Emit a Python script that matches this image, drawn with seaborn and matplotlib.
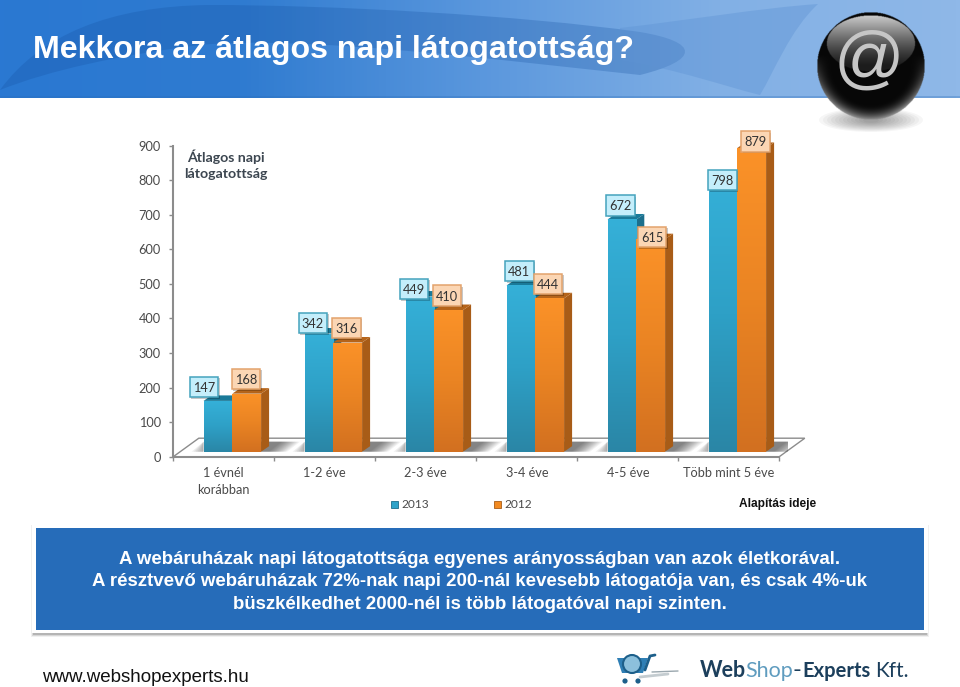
import numpy as np
import pandas as pd
import matplotlib
matplotlib.use('Agg')
import matplotlib.pyplot as plt
import seaborn as sns
from matplotlib.patches import Polygon, Rectangle, Circle, Ellipse, PathPatch
from matplotlib.path import Path
from matplotlib.colors import LinearSegmentedColormap

categories = ['1 évnél\nkorábban', '1-2 éve', '2-3 éve', '3-4 éve', '4-5 éve', 'Több mint 5 éve']
values_2013 = [147, 342, 449, 481, 672, 798]
values_2012 = [168, 316, 410, 444, 615, 879]
y_ticks = [0, 100, 200, 300, 400, 500, 600, 700, 800, 900]
series_names = ['2013', '2012']
panel_lines = ['A webáruházak napi látogatottsága egyenes arányosságban van azok életkorával.',
               'A résztvevő webáruházak 72%-nak napi 200-nál kevesebb látogatója van, és csak 4%-uk',
               'büszkélkedhet 2000-nél is több látogatóval napi szinten.']

W, H = 960, 687
sns.set_theme(style='white')
plt.rcParams['font.family'] = ['Lato', 'DejaVu Sans']
ARIAL = ['Liberation Sans', 'DejaVu Sans']
TEXT = '#4a4a4a'
AXIS = '#8c8c8c'

fig = plt.figure(figsize=(W / 100, H / 100), dpi=100, facecolor='white')


def add_axes_px(x0, y0, x1, y1, **kw):
    # pixel box, y measured from the top of the picture
    return fig.add_axes([x0 / W, 1 - y1 / H, (x1 - x0) / W, (y1 - y0) / H], **kw)


def curve(points):
    # smooth closed shape through cubic segments
    codes = [Path.MOVETO] + [Path.CURVE4] * (len(points) - 1)
    return Path(points, codes)


# page furniture in pixel coordinates
bg = fig.add_axes([0, 0, 1, 1], zorder=0)

header = LinearSegmentedColormap.from_list('h', ['#2a78d2', '#2f7bd0', '#5a97dd', '#82b0e5', '#8fb8e8'])
bg.imshow(np.linspace(0, 1, 256)[None, :], cmap=header, extent=(0, W, 98, 0), aspect='auto', zorder=1)
bg.add_patch(PathPatch(curve([(0, 90), (40, 35), (110, 6), (210, 5),
                              (330, 5), (520, 15), (640, 32),
                              (700, 42), (700, 60), (640, 75),
                              (500, 60), (300, 35), (200, 45),
                              (120, 55), (50, 70), (0, 90)]),
                       fc='#14509f', alpha=0.26, ec='none', zorder=2))
bg.add_patch(PathPatch(curve([(620, 28), (690, 20), (760, 8), (818, 4),
                              (790, 30), (775, 70), (760, 95),
                              (720, 85), (680, 70), (620, 60),
                              (620, 50), (620, 40), (620, 28)]),
                       fc='#5e93d4', alpha=0.4, ec='none', zorder=2))
bg.add_patch(Rectangle((0, 96), W, 2, fc='#2a6cb8', alpha=0.3, ec='none', zorder=2))
bg.text(33, 58, 'Mekkora az átlagos napi látogatottság?', color='white', fontsize=23.15, fontweight='bold',
        family=ARIAL, va='baseline', ha='left', zorder=5)

# sphere: radial shading from a grid, then highlight
gx, gy = np.meshgrid(np.linspace(-1, 1, 240), np.linspace(-1, 1, 240))
rr = np.hypot(gx, gy)
rim = np.clip((rr - 0.72) / 0.28, 0, 1) ** 2 * np.clip(gy + 0.2, 0, 1) * 0.55
glow_mask = ((gx / 0.82) ** 2 + ((gy + 0.42) / 0.52) ** 2) < 1
top_glow = np.where(glow_mask, np.clip(-gy, 0, 1) ** 1.3 * 0.75 + 0.08, 0)
grey = np.clip(0.03 + rim + top_glow, 0, 1)
sphere = np.dstack([grey, grey, grey, (rr <= 1).astype(float)])
for i in range(12):
    bg.add_patch(Ellipse((871, 120), 104 - i * 8, 24 - i * 1.7, fc='black', alpha=0.035, ec='none', zorder=3))
bg.imshow(sphere, extent=(817, 925, 120, 12), aspect='auto', zorder=4, interpolation='bilinear')
bg.text(869, 62, '@', color='#c6c6c6', fontsize=50, ha='center', va='center', family=ARIAL, zorder=5)

# blue panel
for i, a in enumerate([0.06, 0.10, 0.16]):
    bg.add_patch(Rectangle((31 + i, 525 + i), 898 - i * 2, 112 - i * 2, fc='black', alpha=a, ec='none', zorder=1))
bg.add_patch(Rectangle((32, 524), 896, 109, fc='white', ec='none', zorder=2))
bg.add_patch(Rectangle((36, 528), 888, 102, fc='#266cb9', ec='none', zorder=3))
for y, line in zip([564, 586.5, 609], panel_lines):
    bg.text(480, y, line, color='white', fontsize=13.4, fontweight='bold', family=ARIAL,
            ha='center', va='baseline', zorder=4)

# footer
bg.text(42, 682, 'www.webshopexperts.hu', color='#111111', fontsize=13.5, family=ARIAL, va='baseline', zorder=4)
bg.text(700, 677, 'Web', color='#1c3f5c', fontsize=15.5, fontweight='bold', va='baseline', zorder=4)
bg.text(745, 677, 'Shop', color='#5f9cbf', fontsize=15.5, va='baseline', zorder=4)
bg.text(792, 677, '-', color='#1c3f5c', fontsize=17, va='baseline', zorder=4)
bg.text(802, 677, 'Experts', color='#1c3f5c', fontsize=14.5, fontweight='bold', va='baseline', zorder=4)
bg.text(875, 677, 'Kft.', color='#1c3f5c', fontsize=15, va='baseline', zorder=4)
# cart logo
bg.add_patch(Polygon([(617, 658), (648, 658), (643, 673), (622, 673)], fc='#2f7fb5', ec='none', zorder=4))
bg.add_patch(Circle((632, 664), 9, fc='#8cc0dc', ec='#1d5f8a', lw=1.5, zorder=5))
bg.plot([645, 650, 655], [670, 656, 655], color='#1d5f8a', lw=2, zorder=5)
bg.plot([652, 678], [672, 671], color='#9aa7ae', lw=1, zorder=4)
bg.plot([640, 668], [677, 674], color='#c4ccd0', lw=2, zorder=4)
bg.add_patch(Circle((625, 681), 2.6, fc='#1d5f8a', ec='none', zorder=5))
bg.add_patch(Circle((638, 681), 2.6, fc='#1d5f8a', ec='none', zorder=5))
bg.set_xlim(0, W)
bg.set_ylim(H, 0)
bg.axis('off')

# axis frame: zero at y=456.7, 900 at y=145.7, six slots of 101 px
X0, X1, Y0, Y900 = 173.3, 779.3, 456.7, 145.7
ax = add_axes_px(X0, Y900, X1, Y0, zorder=2)
ax.patch.set_alpha(0)
ax.set_xlim(0, len(categories))
ax.set_ylim(0, 900)
ax.set_yticks(y_ticks)
ax.set_xticks(np.arange(len(categories) + 1))
ax.set_xticklabels([])
ax.tick_params(axis='both', length=3, width=1, color=AXIS, labelsize=9.2, labelcolor=TEXT, pad=6,
               left=True, bottom=True)
sns.despine(ax=ax, top=True, right=True)
for s in ['left', 'bottom']:
    ax.spines[s].set_color(AXIS)
    ax.spines[s].set_linewidth(1.5)

# floor
DX, DY = 25.5, 18.5
fx = lambda px: (px - X0) / (X1 - X0) * len(categories)
fy = lambda py: (Y0 - py) / (Y0 - Y900) * 900
ax.add_patch(Polygon([(fx(X0), 0), (fx(X0 + DX), fy(Y0 - DY)), (fx(X1 + DX), fy(Y0 - DY)), (fx(X1), 0)],
                     closed=True, fc='white', ec=AXIS, lw=1, clip_on=False, zorder=1))

# bars live in an axes shifted by the 3D offset
OFF_X, OFF_Y = 8.5, 5.0
bar_ax = add_axes_px(X0 + OFF_X, Y900 - OFF_Y, X1 + OFF_X, Y0 - OFF_Y, zorder=3)
bar_ax.patch.set_alpha(0)
df = pd.DataFrame({'cat': categories * 2,
                   'val': values_2013 + values_2012,
                   'year': ['2013'] * 6 + ['2012'] * 6})
BLUE, ORANGE = '#2ea3c9', '#f28a21'
sns.barplot(data=df, x='cat', y='val', hue='year', hue_order=series_names, order=categories,
            palette=[BLUE, ORANGE], width=0.57, gap=0, dodge=True, legend=False, ax=bar_ax, saturation=1,
            linewidth=0)

blue_grad = LinearSegmentedColormap.from_list('b', ['#2a86a6', '#2ea0c6', '#35b0d8'])
orange_grad = LinearSegmentedColormap.from_list('o', ['#d27020', '#ea8423', '#fb9228'])
px_x = len(categories) / (X1 - X0)
px_y = 900 / (Y0 - Y900)
SIDE_X, SIDE_Y = 8 * px_x, 5.5 * px_y

bars = list(bar_ax.patches)
n = len(categories)
blue_bars, orange_bars = bars[:n], bars[n:n * 2]
for bar_set, cmap, side, top_col, z in [(blue_bars, blue_grad, '#1c6f8c', '#1a7a99', 3),
                                        (orange_bars, orange_grad, '#a85c17', '#b5641a', 5)]:
    for b in bar_set:
        x, w, h = b.get_x(), b.get_width(), b.get_height()
        if bar_set is orange_bars:
            # soft shadow on the floor on both sides of the pair, built from nested shapes
            skew = 13 * px_x
            for reach in np.linspace(26, 8, 12):
                r = x + w + reach * px_x
                bar_ax.add_patch(Polygon([(x + w, 0), (r, 0), (r + skew, 10 * px_y), (x + w, 10 * px_y)],
                                         fc='black', alpha=0.05, ec='none', lw=0, zorder=1))
            for reach in np.linspace(12, 2, 6):
                bar_ax.add_patch(Polygon([(x - w, 0), (x - w - reach * px_x, 0), (x - w, 10 * px_y)],
                                         fc='black', alpha=0.06, ec='none', lw=0, zorder=1))
        bar_ax.add_patch(Polygon([(x + w, 0), (x + w + SIDE_X, SIDE_Y), (x + w + SIDE_X, h + SIDE_Y), (x + w, h)],
                                 fc=side, ec='none', lw=0, zorder=z))
        bar_ax.add_patch(Polygon([(x, h), (x + SIDE_X, h + SIDE_Y), (x + w + SIDE_X, h + SIDE_Y), (x + w, h)],
                                 fc=top_col, ec='none', lw=0, zorder=z))
        b.set_zorder(z + 0.5)
        im = bar_ax.imshow(np.linspace(1, 0, 128)[:, None], cmap=cmap, extent=(x, x + w, 0, h), aspect='auto',
                           zorder=z + 0.6, vmin=0, vmax=1)
        im.set_clip_path(b)
bar_ax.set_xlim(-0.5, len(categories) - 0.5)
bar_ax.set_ylim(0, 900)
bar_ax.axis('off')

# top layer in pixel coordinates: data labels, captions, legend
top = fig.add_axes([0, 0, 1, 1], zorder=5)

# category labels under the slots
for i, c in enumerate(categories):
    top.text(X0 + (i + 0.5) * (X1 - X0) / n, 467, c, ha='center', va='top', fontsize=9.2, color=TEXT, linespacing=1.45)

# data labels, nudged in pixels from the front top centre of each bar
BOX_W, BOX_H = 28.5, 20.5
nudge_2013 = [(-14, 14), (-6, 10.5), (-6, 7.5), (-1.5, 14.5), (-1.5, 14), (-0.5, -4)]
nudge_2012 = [(-0.5, 14.5), (-1, 14.5), (-1.5, 14.5), (-1.5, 14.5), (1.5, 2), (4, 6.5)]
for bar_set, nudges, fc, ec, z in [(blue_bars, nudge_2013, '#c4eefb', '#45a3bd', 8),
                                   (orange_bars, nudge_2012, '#fbd6b4', '#e3a36c', 9)]:
    for b, (dx, dy) in zip(bar_set, nudges):
        bx, by = bar_ax.transData.transform((b.get_x() + b.get_width() / 2, b.get_height()))
        cx, cy = bx + dx, H - by - dy
        top.add_patch(Rectangle((cx - BOX_W / 2 + 1.5, cy - BOX_H / 2 + 1.5), BOX_W, BOX_H, fc='black', alpha=0.22,
                                ec='none', zorder=z))
        top.add_patch(Rectangle((cx - BOX_W / 2, cy - BOX_H / 2), BOX_W, BOX_H, fc=fc, ec=ec, lw=1.1, zorder=z + 0.1))
        top.text(cx, cy, f'{int(b.get_height())}', ha='center', va='center_baseline', fontsize=9.2, color='#333333',
                 zorder=z + 0.2)

top.text(226, 164.5, 'Átlagos napi\nlátogatottság', ha='center', va='center', fontsize=10.2, fontweight='bold',
         color='#3c4650', linespacing=1.4)
top.add_patch(Rectangle((391, 501), 7, 7, fc=BLUE, ec='#1c6f8c', lw=0.6))
top.add_patch(Rectangle((494, 501), 7, 7, fc=ORANGE, ec='#a85c17', lw=0.6))
top.text(401, 505, series_names[0], fontsize=8.6, color=TEXT, va='center')
top.text(504, 505, series_names[1], fontsize=8.6, color=TEXT, va='center')
top.text(739, 504, 'Alapítás ideje', fontsize=8.6, fontweight='bold', color='#111111', family=ARIAL, va='center')
top.set_xlim(0, W)
top.set_ylim(H, 0)
top.axis('off')

fig.savefig('out.png', dpi=100, facecolor='white')
